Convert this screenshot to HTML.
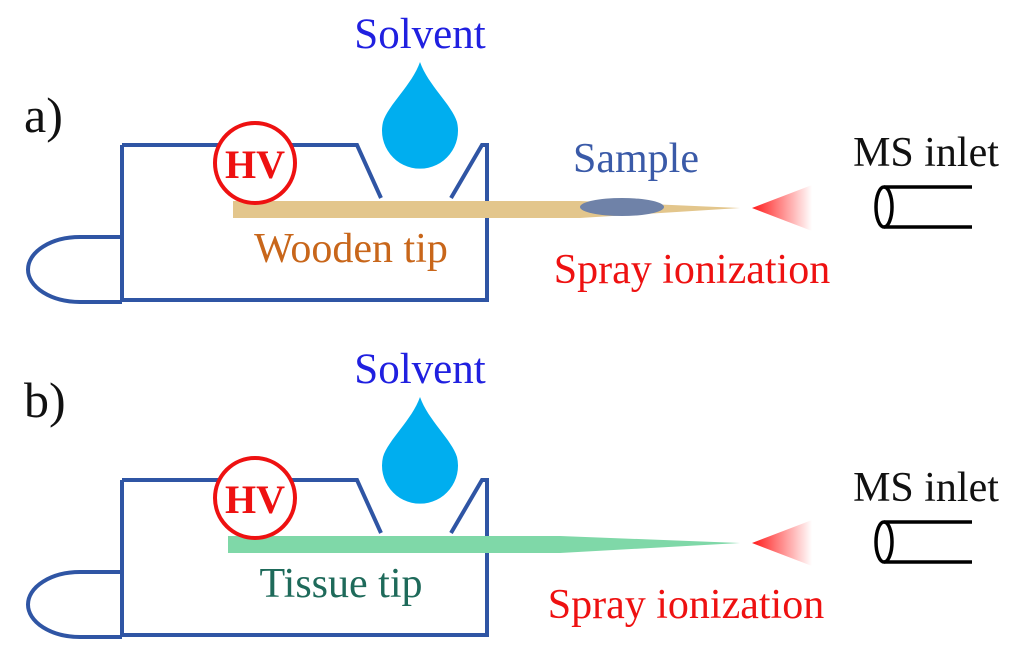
<!DOCTYPE html>
<html><head><meta charset="utf-8"><style>
html,body{margin:0;padding:0;background:#fff;}
svg{display:block;}
text{font-family:"Liberation Serif",serif;}
</style></head><body>
<svg width="1024" height="660" viewBox="0 0 1024 660" xmlns="http://www.w3.org/2000/svg">
<defs>
<linearGradient id="spray" x1="0" y1="0" x2="1" y2="0">
<stop offset="0" stop-color="#ff1a1a"/><stop offset="1" stop-color="#ff1a1a" stop-opacity="0"/>
</linearGradient>
<g id="base">
  <path d="M122,145 L357,145 L381,198" fill="none" stroke="#2f55a4" stroke-width="4"/>
  <path d="M451,198 L482,145 L487,145 L487,300 L122,300 L122,145" fill="none" stroke="#2f55a4" stroke-width="4"/>
  <path d="M122,237 L80,237 A52,32.5 0 0 0 80,302 L122,302" fill="none" stroke="#2f55a4" stroke-width="4"/>
  <path d="M420,62 C428,85 452,105 457,122 A38,38 0 1 1 383,122 C388,105 412,85 420,62 Z" fill="#00aeef"/>
  <text x="420" y="48" font-size="43" fill="#2020e0" text-anchor="middle">Solvent</text>
  <polygon points="752,208 812,185 812,231" fill="url(#spray)"/>
  <ellipse cx="884" cy="207" rx="8" ry="20" fill="none" stroke="#000" stroke-width="3.5"/>
  <line x1="884" y1="187" x2="972" y2="187" stroke="#000" stroke-width="3.5"/>
  <line x1="884" y1="227" x2="972" y2="227" stroke="#000" stroke-width="3.5"/>
</g>
<g id="hv">
  <circle cx="255" cy="163" r="40" fill="#fff" stroke="#ee1111" stroke-width="4"/>
  <text x="255" y="178" font-size="40" font-weight="bold" fill="#ee1111" text-anchor="middle">HV</text>
</g>
</defs>

<!-- panel a -->
<text x="24" y="132" font-size="50" fill="#111">a)</text>
<use href="#base"/>
<polygon points="233,201 580,201 740,208 580,218 233,218" fill="#e3c68c"/>
<use href="#hv"/>
<ellipse cx="622" cy="207" rx="42" ry="9" fill="#6f82a8"/>
<text x="636" y="172" font-size="42" fill="#3a5aa8" text-anchor="middle">Sample</text>
<text x="926" y="166" font-size="42" fill="#111" text-anchor="middle">MS inlet</text>
<text x="351" y="262" font-size="42" fill="#c8661a" text-anchor="middle">Wooden tip</text>
<text x="692" y="283" font-size="42" fill="#ee1111" text-anchor="middle">Spray ionization</text>

<!-- panel b -->
<text x="24" y="417" font-size="50" fill="#111">b)</text>
<g transform="translate(0,335)">
<use href="#base"/>
<polygon points="228,201 560,201 740,208 560,218 228,218" fill="#7fd8a8"/>
<use href="#hv"/>
<text x="926" y="166" font-size="42" fill="#111" text-anchor="middle">MS inlet</text>
<text x="341" y="262" font-size="42" fill="#1e6a5a" text-anchor="middle">Tissue tip</text>
<text x="686" y="283" font-size="42" fill="#ee1111" text-anchor="middle">Spray ionization</text>
</g>
</svg>
</body></html>
